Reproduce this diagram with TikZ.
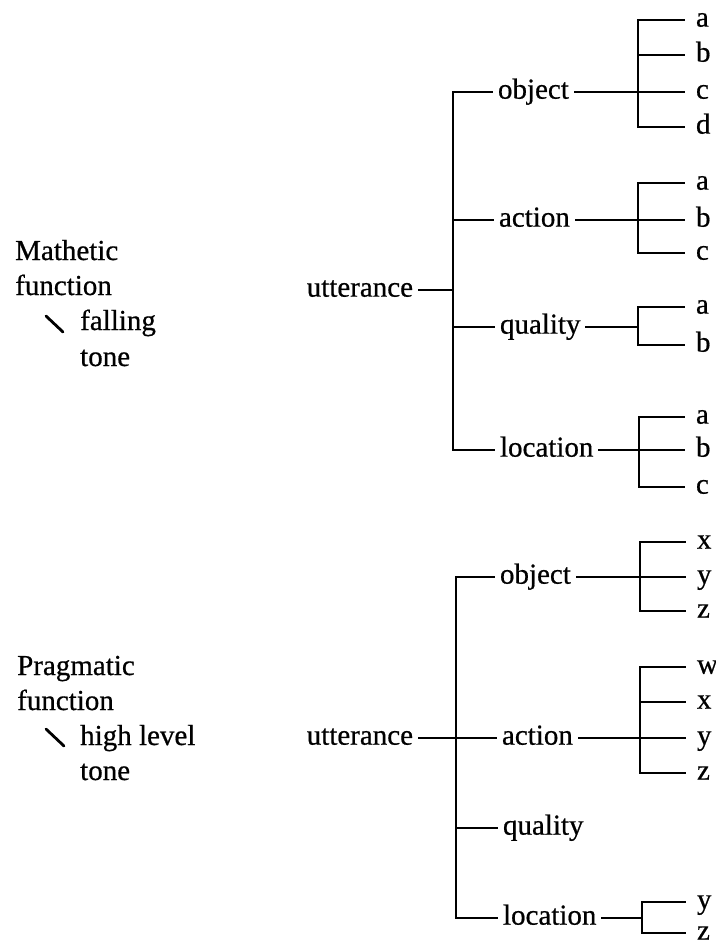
\documentclass[tikz,border=0pt]{standalone}
\usepackage{fontspec}
\setmainfont[FakeBold=0.6]{Liberation Serif}
\begin{document}
\fontsize{29}{35}\selectfont
\begin{tikzpicture}[x=1pt,y=1pt,
  txt/.style={font=\fontsize{29}{35}\selectfont},
  wire/.style={line width=2.3pt,line cap=rect},
  lbl/.style={txt,anchor=base west,inner sep=0pt},
  br/.style={txt,anchor=mid west,inner xsep=6pt,inner ysep=0pt,outer sep=0pt},
  root/.style={txt,anchor=mid east,inner xsep=6pt,inner ysep=0pt,outer sep=0pt},
  leaf/.style={txt,anchor=mid west,inner xsep=12pt,inner ysep=0pt,outer sep=0pt},
  tick/.style={line width=2.8pt,line cap=round}]
\useasboundingbox (0,0) rectangle (715,-945);

% ---------- left captions ----------
\node[lbl] (m1) at (15,-260) {Mathetic};
\node[lbl] (m2) at (15,-295) {function};
\node[lbl] (m3) at (80,-330) {falling};
\node[lbl] (m4) at (80,-366) {tone};
\draw[tick] (46,-316) -- (63,-332);

\node[lbl] (p1) at (17,-675) {Pragmatic};
\node[lbl] (p2) at (17,-710) {function};
\node[lbl] (p3) at (80,-745) {high level};
\node[lbl] (p4) at (80,-780) {tone};
\draw[tick] (46,-729) -- (64,-746);

% ---------- upper tree ----------
\node[root] (u1) at (419,-290) {utterance};
\coordinate (s1t) at (453,-92);
\coordinate (s1b) at (453,-450);
\draw[wire] (s1t) -- (s1b);
\draw[wire] (u1.mid east) -- (u1.mid east -| s1t);

\node[br] (ob1) at (492,-92) {object};
\node[br] (ac1) at (493,-220) {action};
\node[br] (qu1) at (494,-327) {quality};
\node[br] (lo1) at (494,-450) {location};
\foreach \b in {ob1,ac1,qu1,lo1}
  \draw[wire] (\b.mid west -| s1t) -- (\b.mid west);

% object: a b c d
\coordinate (ob1t) at (638,-20);
\coordinate (ob1b) at (638,-127);
\draw[wire] (ob1t) -- (ob1b);
\draw[wire] (ob1.mid east) -- (ob1.mid east -| ob1t);
\foreach \t/\y in {a/-20,b/-55,c/-92,d/-127}{
  \node[leaf] (ob1-\t) at (684,\y) {\t};
  \draw[wire] (ob1-\t.mid west -| ob1t) -- (ob1-\t.mid west);
}

% action: a b c
\coordinate (ac1t) at (638,-183);
\coordinate (ac1b) at (638,-253);
\draw[wire] (ac1t) -- (ac1b);
\draw[wire] (ac1.mid east) -- (ac1.mid east -| ac1t);
\foreach \t/\y in {a/-183,b/-220,c/-253}{
  \node[leaf] (ac1-\t) at (684,\y) {\t};
  \draw[wire] (ac1-\t.mid west -| ac1t) -- (ac1-\t.mid west);
}

% quality: a b
\coordinate (qu1t) at (638,-307);
\coordinate (qu1b) at (638,-345);
\draw[wire] (qu1t) -- (qu1b);
\draw[wire] (qu1.mid east) -- (qu1.mid east -| qu1t);
\foreach \t/\y in {a/-307,b/-345}{
  \node[leaf] (qu1-\t) at (684,\y) {\t};
  \draw[wire] (qu1-\t.mid west -| qu1t) -- (qu1-\t.mid west);
}

% location: a b c
\coordinate (lo1t) at (639,-417);
\coordinate (lo1b) at (639,-487);
\draw[wire] (lo1t) -- (lo1b);
\draw[wire] (lo1.mid east) -- (lo1.mid east -| lo1t);
\foreach \t/\y in {a/-417,b/-450,c/-487}{
  \node[leaf] (lo1-\t) at (684,\y) {\t};
  \draw[wire] (lo1-\t.mid west -| lo1t) -- (lo1-\t.mid west);
}

% ---------- lower tree ----------
\node[root] (u2) at (419,-738) {utterance};
\coordinate (s2t) at (456,-577);
\coordinate (s2b) at (456,-918);
\draw[wire] (s2t) -- (s2b);
\draw[wire] (u2.mid east) -- (u2.mid east -| s2t);

\node[br] (ob2) at (494,-577) {object};
\node[br] (ac2) at (496,-738) {action};
\node[br] (qu2) at (497,-828) {quality};
\node[br] (lo2) at (497,-918) {location};
\foreach \b in {ob2,ac2,qu2,lo2}
  \draw[wire] (\b.mid west -| s2t) -- (\b.mid west);

% object: x y z
\coordinate (ob2t) at (640,-542);
\coordinate (ob2b) at (640,-611);
\draw[wire] (ob2t) -- (ob2b);
\draw[wire] (ob2.mid east) -- (ob2.mid east -| ob2t);
\foreach \t/\y in {x/-542,y/-577,z/-611}{
  \node[leaf] (ob2-\t) at (685,\y) {\t};
  \draw[wire] (ob2-\t.mid west -| ob2t) -- (ob2-\t.mid west);
}

% action: w x y z
\coordinate (ac2t) at (640,-667);
\coordinate (ac2b) at (640,-773);
\draw[wire] (ac2t) -- (ac2b);
\draw[wire] (ac2.mid east) -- (ac2.mid east -| ac2t);
\foreach \t/\y in {w/-667,x/-702,y/-738,z/-773}{
  \node[leaf] (ac2-\t) at (685,\y) {\t};
  \draw[wire] (ac2-\t.mid west -| ac2t) -- (ac2-\t.mid west);
}

% location: y z
\coordinate (lo2t) at (642,-902);
\coordinate (lo2b) at (642,-933);
\draw[wire] (lo2t) -- (lo2b);
\draw[wire] (lo2.mid east) -- (lo2.mid east -| lo2t);
\foreach \t/\y in {y/-902,z/-933}{
  \node[leaf] (lo2-\t) at (685,\y) {\t};
  \draw[wire] (lo2-\t.mid west -| lo2t) -- (lo2-\t.mid west);
}
\end{tikzpicture}
\end{document}
